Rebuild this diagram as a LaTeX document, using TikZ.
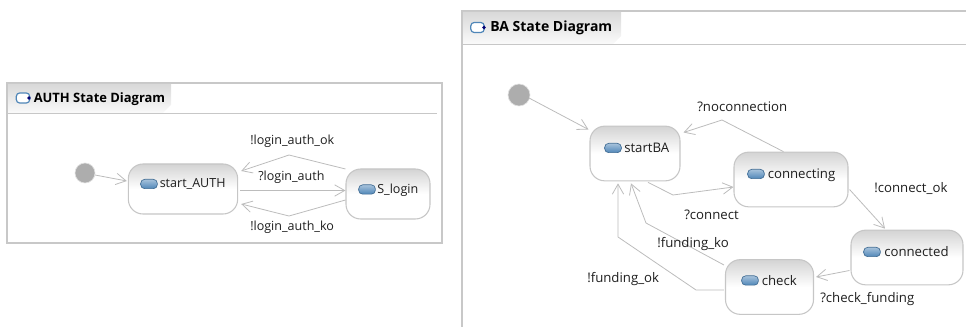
\documentclass[tikz,border=0pt]{standalone}
\usepackage{fontspec}
\setmainfont{Open Sans}
\usetikzlibrary{arrows.meta}
\definecolor{edgec}{HTML}{BCBCBC}
\definecolor{framec}{HTML}{C8C8C8}
\definecolor{boxc}{HTML}{C6C6C6}
\definecolor{txtc}{HTML}{1E1E1E}
\definecolor{iconc}{HTML}{4F86B8}
\tikzset{
  x=0.75pt,y=-0.75pt,
  statebox/.style={draw=boxc,line width=0.8pt,rounded corners=11pt,inner sep=0pt,
    top color=black!17,bottom color=white,middle color=white,shading angle=0},
  initstate/.style={circle,fill=black!32,draw=black!12,line width=0.5pt,inner sep=0pt},
  trans/.style={draw=edgec,line width=0.6pt,-{Straight Barb[length=7.5pt,width=8.5pt,line width=0.6pt]}},
  lbl/.style={text=txtc,font=\fontsize{9.4pt}{10pt}\selectfont,inner sep=0pt,anchor=base west},
  lblb/.style={text=txtc,font=\fontsize{9.9pt}{10pt}\selectfont,inner sep=0pt,anchor=base west},
  title/.style={text=black,font=\fontsize{9.7pt}{10pt}\selectfont\bfseries,inner sep=0pt,anchor=base west},
  titleb/.style={text=black,font=\fontsize{10.5pt}{10pt}\selectfont\bfseries,inner sep=0pt,anchor=base west},
  iconmark/.style={rounded corners=3pt,draw=iconc!80!black,line width=0.5pt,top color=iconc!50,bottom color=iconc,
    minimum width=12.5pt,minimum height=7pt,inner sep=0pt},
  frameline/.style={draw=framec,line width=0.9pt},
  headerline/.style={draw=black!22,line width=0.8pt},
  tabshade/.style={top color=black!15,bottom color=black!2,draw=none},
  titleicon/.style={rounded corners=2.5pt,draw=iconc,line width=0.9pt,fill=white,
    minimum width=10pt,minimum height=7.5pt,inner sep=0pt},
  icondot/.style={circle,fill=blue!45!black,inner sep=0pt,minimum size=2.8pt},
}
\begin{document}
\begin{tikzpicture}
\useasboundingbox (0,0) rectangle (966,327);
% ---------- AUTH frame
\draw[frameline] (7,83) rectangle (442,243);
\shade[tabshade] (8,84) -- (171,84) -- (171,105) -- (163,113) -- (8,113) -- cycle;
\draw[headerline] (8,113.5) -- (437,113.5);
\node[titleicon] (authicon) at (23,98) {};
\node[icondot] (authdot) at (29,98) {};
\node[title] (authtitle) at (33.5,102.5) {AUTH State Diagram};
% states
\node[initstate,minimum size=15pt] (authinit) at (85,173) {};
\node[statebox,minimum width=82pt,minimum height=37.5pt] (startauth) at (183,189) {};
\node[statebox,minimum width=63pt,minimum height=37.5pt] (slogin) at (388,194) {};
\node[iconmark] (startauthicon) at (149,184) {};
\node[lbl] (startauthtxt) at (159.5,188) {start\_AUTH};
\node[iconmark] (sloginicon) at (367,189.5) {};
\node[lbl] (slogintxt) at (377,193.5) {S\_login};
% bends
\coordinate (okbend) at (289,155);
\coordinate (kobend) at (289,216);
% edges
\draw[trans] ([shift={(10,2)}]authinit.center) -- ([shift={(-1,-8)}]startauth.west);
\draw[trans] ([shift={(0,-25)}]slogin.west) -- (okbend) -- ([shift={(3,-18)}]startauth.east);
\draw[trans] ([shift={(2,1.5)}]startauth.east) -- ([shift={(0,-3.5)}]slogin.west);
\draw[trans] ([shift={(0,6)}]slogin.west) -- (kobend) -- ([shift={(3,15)}]startauth.east);
% labels
\node[lbl] (okl) at (250,145) {!login\_auth\_ok};
\node[lbl] (pl) at (258,181) {?login\_auth};
\node[lbl] (kol) at (250,231) {!login\_auth\_ko};
% ---------- BA frame
\draw[frameline] (966,11) -- (462,11) -- (462,327);
\shade[tabshade] (463,12) -- (621,12) -- (621,36) -- (613,44) -- (463,44) -- cycle;
\draw[headerline] (463,44.5) -- (966,44.5);
\node[titleicon] (baicon) at (477.5,27.5) {};
\node[icondot] (badot) at (484,27.5) {};
\node[titleb] (batitle) at (490,31.5) {BA State Diagram};
% states
\node[initstate,minimum size=16.5pt] (bainit) at (519,95) {};
\node[statebox,minimum width=67.5pt,minimum height=41pt] (startba) at (635,153.5) {};
\node[statebox,minimum width=85.5pt,minimum height=41pt] (connecting) at (791,179.5) {};
\node[statebox,minimum width=84pt,minimum height=41pt] (connected) at (907,257.5) {};
\node[statebox,minimum width=66pt,minimum height=41pt] (check) at (769.5,287) {};
\node[iconmark] (startbaicon) at (613,148) {};
\node[lblb] (startbatxt) at (624,152.5) {startBA};
\node[iconmark] (connectingicon) at (756,174) {};
\node[lblb] (connectingtxt) at (767.5,178.5) {connecting};
\node[iconmark] (connectedicon) at (872,252) {};
\node[lblb] (connectedtxt) at (884,256.5) {connected};
\node[iconmark] (checkicon) at (750,280.5) {};
\node[lblb] (checktxt) at (761.5,285.5) {check};
% bends
\coordinate (nobend) at (722,120);
\coordinate (conbend) at (673,195);
\coordinate (kobendb) at (646,223);
\coordinate (okbendb) at (618,237);
\coordinate (okbendc) at (696,290);
% edges
\draw[trans] ([shift={(10,3)}]bainit.center) -- ([shift={(-1,-24)}]startba.west);
\draw[trans] ([shift={(50,0)}]connecting.north west) -- (nobend) -- ([shift={(3,-21)}]startba.east);
\draw[trans] ([shift={(13,1)}]startba.south) -- (conbend) -- ([shift={(0,7.5)}]connecting.west);
\draw[trans] ([shift={(1,10)}]connecting.east) -- ([shift={(-22,-1)}]connected.north);
\draw[trans] ([shift={(-1,13)}]connected.west) -- ([shift={(2,-10)}]check.east);
\draw[trans] ([shift={(-1,-22)}]check.west) -- (kobendb) -- ([shift={(-4,2)}]startba.south);
\draw[trans] ([shift={(-1,3)}]check.west) -- (okbendc) -- (okbendb) -- ([shift={(-17,2)}]startba.south);
% labels
\node[lblb] (nol) at (697,112) {?noconnection};
\node[lblb] (cokl) at (874,193) {!connect\_ok};
\node[lblb] (conl) at (684,220) {?connect};
\node[lblb] (fkl) at (657,248) {!funding\_ko};
\node[lblb] (fol) at (587,283) {!funding\_ok};
\node[lblb] (cfl) at (820,302) {?check\_funding};
\end{tikzpicture}
\end{document}
